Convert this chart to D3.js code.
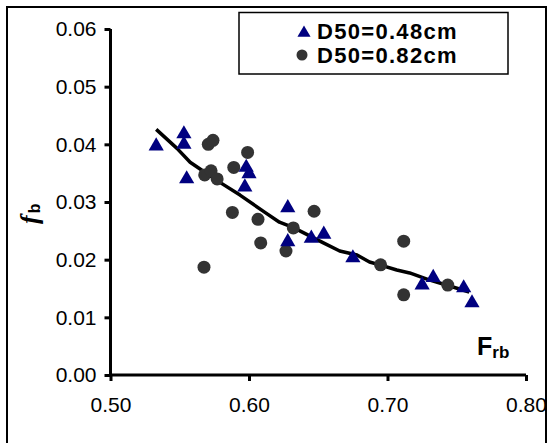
<!DOCTYPE html>
<html>
<head>
<meta charset="utf-8">
<script src="https://cdn.jsdelivr.net/npm/d3@7"></script>
<style>
  body { margin: 0; background: #fff; }
  text { font-family: "Liberation Sans", Arial, sans-serif; }
</style>
</head>
<body>
<div id="chart"></div>
<script>
// data
const triX = [0.533, 0.553, 0.553, 0.555, 0.598, 0.600, 0.597, 0.628, 0.628, 0.645, 0.654, 0.675, 0.725, 0.733, 0.755, 0.761];
const triY = [0.0397, 0.0418, 0.0400, 0.0340, 0.0360, 0.0349, 0.0326, 0.0290, 0.0231, 0.0237, 0.0244, 0.0203, 0.0156, 0.0169, 0.0151, 0.0125];

const dotX = [0.5706, 0.574, 0.599, 0.589, 0.568, 0.5726, 0.577, 0.588, 0.6065, 0.632, 0.647, 0.6085, 0.6267, 0.5675, 0.7117, 0.695, 0.7117, 0.7435];
const dotY = [0.0400, 0.0407, 0.0386, 0.0360, 0.0347, 0.0354, 0.0340, 0.0282, 0.0270, 0.0255, 0.0284, 0.0229, 0.0215, 0.0187, 0.0232, 0.0191, 0.0139, 0.0156];

const trendX = [0.533, 0.548, 0.5575, 0.566, 0.579, 0.5935, 0.6115, 0.622, 0.6317, 0.6424, 0.653, 0.6655, 0.678, 0.687, 0.6945, 0.7067, 0.716, 0.730, 0.7425, 0.759];
const trendY = [0.0426, 0.0393, 0.0369, 0.0355, 0.0334, 0.0312, 0.0282, 0.0265, 0.0256, 0.0243, 0.0230, 0.0215, 0.0208, 0.0196, 0.0191, 0.0182, 0.0177, 0.0165, 0.0156, 0.0144];

const xTicks = [0.5, 0.6, 0.7, 0.8];
const yTicks = [0, 0.01, 0.02, 0.03, 0.04, 0.05, 0.06];
const seriesNames = ["D50=0.48cm", "D50=0.82cm"];

const W = 552, H = 443;
const svg = d3.select("#chart").append("svg")
  .attr("width", W).attr("height", H);

// outer frame
svg.append("rect")
  .attr("x", 7).attr("y", 7).attr("width", 539).attr("height", 440)
  .attr("fill", "none").attr("stroke", "#000").attr("stroke-width", 2);

const x = d3.scaleLinear().domain([0.5, 0.8]).range([110.5, 526]);
const y = d3.scaleLinear().domain([0, 0.06]).range([375, 29]);

// y axis
const yAxis = svg.append("g")
  .attr("transform", "translate(110.5,0)")
  .call(d3.axisLeft(y).tickValues(yTicks).tickFormat(d3.format(".2f")).tickSize(6).tickPadding(8));
// x axis
const xAxis = svg.append("g")
  .attr("transform", "translate(0,375)")
  .call(d3.axisBottom(x).tickValues(xTicks).tickFormat(d3.format(".2f")).tickSize(6).tickPadding(16));

[xAxis, yAxis].forEach(a => {
  a.select(".domain").attr("stroke-width", 3);
  a.selectAll(".tick line").attr("stroke-width", 3);
  a.selectAll(".tick text")
    .style("font-family", "'Liberation Sans', Arial, sans-serif")
    .style("font-size", "21px").attr("fill", "#000");
});
// plain axis lines, no end caps
xAxis.select(".domain").attr("d", `M${x(0.5)},0H${x(0.8)}`);
yAxis.select(".domain").attr("d", `M0,${y(0)}V${y(0.06)}`);

// trend line
svg.append("path")
  .datum(trendX.map((d, i) => [d, trendY[i]]))
  .attr("fill", "none")
  .attr("stroke", "#000")
  .attr("stroke-width", 3.5)
  .attr("stroke-linejoin", "round")
  .attr("d", d3.line().x(d => x(d[0])).y(d => y(d[1])));

// circles
svg.append("g").selectAll("circle")
  .data(dotX.map((d, i) => [d, dotY[i]]))
  .join("circle")
    .attr("cx", d => x(d[0]))
    .attr("cy", d => y(d[1]))
    .attr("r", 6.5)
    .attr("fill", "#333333");

// triangles
const tri = d3.symbol().type(d3.symbolTriangle).size(100);
svg.append("g").selectAll("path")
  .data(triX.map((d, i) => [d, triY[i]]))
  .join("path")
    .attr("transform", d => `translate(${x(d[0])},${y(d[1])})`)
    .attr("d", tri)
    .attr("fill", "#000080");

// legend
const lg = svg.append("g");
lg.append("rect")
  .attr("x", 239).attr("y", 12.5).attr("width", 269).attr("height", 61.5)
  .attr("fill", "#fff").attr("stroke", "#000").attr("stroke-width", 1.5);
lg.append("path")
  .attr("transform", "translate(304,33)")
  .attr("d", d3.symbol().type(d3.symbolTriangle).size(75))
  .attr("fill", "#000080");
lg.append("circle")
  .attr("cx", 302).attr("cy", 55).attr("r", 5.5)
  .attr("fill", "#333333");
lg.selectAll("text.lab")
  .data(seriesNames)
  .join("text")
    .attr("class", "lab")
    .attr("x", 317)
    .attr("y", (d, i) => 39 + i * 24)
    .style("font-size", "22px")
    .style("font-weight", "bold")
    .style("letter-spacing", "1.3px")
    .text(d => d);

// axis titles
svg.append("text")
  .attr("transform", "translate(38,224) rotate(-90)")
  .style("font-weight", "bold")
  .call(t => {
    t.append("tspan").style("font-family", "'Liberation Serif', serif")
      .style("font-style", "italic").style("font-size", "26px").text("f");
    t.append("tspan").attr("dx", 2).attr("dy", 2).style("font-size", "16px").text("b");
  });

svg.append("text")
  .attr("x", 477).attr("y", 355)
  .style("font-size", "25px").style("font-weight", "bold")
  .call(t => {
    t.append("tspan").text("F");
    t.append("tspan").attr("dy", 3).style("font-size", "17px").text("rb");
  });
</script>
</body>
</html>
